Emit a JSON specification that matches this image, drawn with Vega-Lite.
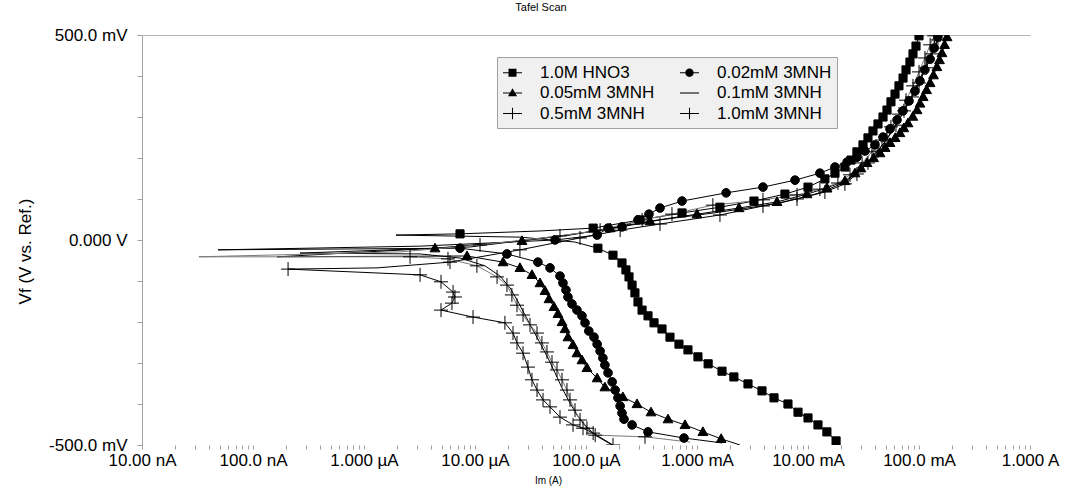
{
"$schema":"https://vega.github.io/schema/vega-lite/v6.json",
"width":888,"height":410,
"autosize":{"type":"none"},
"padding":{"left":142,"top":35,"right":45,"bottom":47},
"background":"white",
"config":{"view":{"stroke":null},"font":"Liberation Sans"},
"title":{"text":"Tafel Scan","fontSize":11,"fontWeight":"normal","color":"black","anchor":"middle","dx":-45,"offset":13,"font":"Liberation Sans"},
"data":{"values":[
{"s":"1.0M HNO3","i":0,"I":1.79e-2,"V":-0.490,"m":1},
{"s":"1.0M HNO3","i":1,"I":1.48e-2,"V":-0.468,"m":1},
{"s":"1.0M HNO3","i":2,"I":1.23e-2,"V":-0.451,"m":1},
{"s":"1.0M HNO3","i":3,"I":1.00e-2,"V":-0.434,"m":1},
{"s":"1.0M HNO3","i":4,"I":8.13e-3,"V":-0.420,"m":1},
{"s":"1.0M HNO3","i":5,"I":6.60e-3,"V":-0.400,"m":1},
{"s":"1.0M HNO3","i":6,"I":4.94e-3,"V":-0.385,"m":1},
{"s":"1.0M HNO3","i":7,"I":3.85e-3,"V":-0.368,"m":1},
{"s":"1.0M HNO3","i":8,"I":2.88e-3,"V":-0.351,"m":1},
{"s":"1.0M HNO3","i":9,"I":2.15e-3,"V":-0.334,"m":1},
{"s":"1.0M HNO3","i":10,"I":1.68e-3,"V":-0.320,"m":1},
{"s":"1.0M HNO3","i":11,"I":1.26e-3,"V":-0.302,"m":1},
{"s":"1.0M HNO3","i":12,"I":1.02e-3,"V":-0.285,"m":1},
{"s":"1.0M HNO3","i":13,"I":8.29e-4,"V":-0.268,"m":1},
{"s":"1.0M HNO3","i":14,"I":6.88e-4,"V":-0.254,"m":1},
{"s":"1.0M HNO3","i":15,"I":5.71e-4,"V":-0.237,"m":1},
{"s":"1.0M HNO3","i":16,"I":4.84e-4,"V":-0.217,"m":1},
{"s":"1.0M HNO3","i":17,"I":4.10e-4,"V":-0.202,"m":1},
{"s":"1.0M HNO3","i":18,"I":3.62e-4,"V":-0.185,"m":1},
{"s":"1.0M HNO3","i":19,"I":3.20e-4,"V":-0.171,"m":1},
{"s":"1.0M HNO3","i":20,"I":2.94e-4,"V":-0.151,"m":1},
{"s":"1.0M HNO3","i":21,"I":2.76e-4,"V":-0.129,"m":1},
{"s":"1.0M HNO3","i":22,"I":2.60e-4,"V":-0.110,"m":1},
{"s":"1.0M HNO3","i":23,"I":2.44e-4,"V":-0.090,"m":1},
{"s":"1.0M HNO3","i":24,"I":2.29e-4,"V":-0.073,"m":1},
{"s":"1.0M HNO3","i":25,"I":2.11e-4,"V":-0.056,"m":1},
{"s":"1.0M HNO3","i":26,"I":1.75e-4,"V":-0.037,"m":1},
{"s":"1.0M HNO3","i":27,"I":1.28e-4,"V":-0.020,"m":1},
{"s":"1.0M HNO3","i":28,"I":7.96e-5,"V":-0.005,"m":0},
{"s":"1.0M HNO3","i":29,"I":2.54e-5,"V":0.007,"m":0},
{"s":"1.0M HNO3","i":30,"I":1.94e-6,"V":0.012,"m":0},
{"s":"1.0M HNO3","i":31,"I":7.33e-6,"V":0.015,"m":1},
{"s":"1.0M HNO3","i":32,"I":3.85e-5,"V":0.022,"m":0},
{"s":"1.0M HNO3","i":33,"I":1.16e-4,"V":0.029,"m":1},
{"s":"1.0M HNO3","i":34,"I":3.07e-4,"V":0.049,"m":1},
{"s":"1.0M HNO3","i":35,"I":7.33e-4,"V":0.066,"m":1},
{"s":"1.0M HNO3","i":36,"I":1.61e-3,"V":0.080,"m":1},
{"s":"1.0M HNO3","i":37,"I":3.26e-3,"V":0.095,"m":1},
{"s":"1.0M HNO3","i":38,"I":6.20e-3,"V":0.112,"m":1},
{"s":"1.0M HNO3","i":39,"I":1.00e-2,"V":0.129,"m":1},
{"s":"1.0M HNO3","i":40,"I":1.42e-2,"V":0.149,"m":1},
{"s":"1.0M HNO3","i":41,"I":1.75e-2,"V":0.163,"m":1},
{"s":"1.0M HNO3","i":42,"I":2.15e-2,"V":0.178,"m":1},
{"s":"1.0M HNO3","i":43,"I":2.44e-2,"V":0.195,"m":1},
{"s":"1.0M HNO3","i":44,"I":2.76e-2,"V":0.215,"m":1},
{"s":"1.0M HNO3","i":45,"I":3.13e-2,"V":0.232,"m":1},
{"s":"1.0M HNO3","i":46,"I":3.47e-2,"V":0.249,"m":1},
{"s":"1.0M HNO3","i":47,"I":3.85e-2,"V":0.266,"m":1},
{"s":"1.0M HNO3","i":48,"I":4.27e-2,"V":0.283,"m":1},
{"s":"1.0M HNO3","i":49,"I":4.74e-2,"V":0.300,"m":1},
{"s":"1.0M HNO3","i":50,"I":5.15e-2,"V":0.317,"m":1},
{"s":"1.0M HNO3","i":51,"I":5.59e-2,"V":0.337,"m":1},
{"s":"1.0M HNO3","i":52,"I":6.08e-2,"V":0.356,"m":1},
{"s":"1.0M HNO3","i":53,"I":6.60e-2,"V":0.376,"m":1},
{"s":"1.0M HNO3","i":54,"I":7.18e-2,"V":0.395,"m":1},
{"s":"1.0M HNO3","i":55,"I":7.64e-2,"V":0.415,"m":1},
{"s":"1.0M HNO3","i":56,"I":8.29e-2,"V":0.434,"m":1},
{"s":"1.0M HNO3","i":57,"I":8.83e-2,"V":0.454,"m":1},
{"s":"1.0M HNO3","i":58,"I":9.40e-2,"V":0.473,"m":1},
{"s":"1.0M HNO3","i":59,"I":1.00e-1,"V":0.498,"m":1},
{"s":"0.02mM 3MNH","i":0,"I":1.68e-3,"V":-0.495,"m":0},
{"s":"0.02mM 3MNH","i":1,"I":7.64e-4,"V":-0.483,"m":1},
{"s":"0.02mM 3MNH","i":2,"I":3.62e-4,"V":-0.468,"m":1},
{"s":"0.02mM 3MNH","i":3,"I":2.60e-4,"V":-0.451,"m":1},
{"s":"0.02mM 3MNH","i":4,"I":2.20e-4,"V":-0.437,"m":1},
{"s":"0.02mM 3MNH","i":5,"I":2.11e-4,"V":-0.422,"m":1},
{"s":"0.02mM 3MNH","i":6,"I":2.03e-4,"V":-0.405,"m":1},
{"s":"0.02mM 3MNH","i":7,"I":1.94e-4,"V":-0.385,"m":1},
{"s":"0.02mM 3MNH","i":8,"I":1.83e-4,"V":-0.366,"m":1},
{"s":"0.02mM 3MNH","i":9,"I":1.72e-4,"V":-0.346,"m":1},
{"s":"0.02mM 3MNH","i":10,"I":1.58e-4,"V":-0.324,"m":1},
{"s":"0.02mM 3MNH","i":11,"I":1.48e-4,"V":-0.305,"m":1},
{"s":"0.02mM 3MNH","i":12,"I":1.42e-4,"V":-0.288,"m":1},
{"s":"0.02mM 3MNH","i":13,"I":1.34e-4,"V":-0.271,"m":1},
{"s":"0.02mM 3MNH","i":14,"I":1.26e-4,"V":-0.254,"m":1},
{"s":"0.02mM 3MNH","i":15,"I":1.18e-4,"V":-0.237,"m":1},
{"s":"0.02mM 3MNH","i":16,"I":1.06e-4,"V":-0.222,"m":1},
{"s":"0.02mM 3MNH","i":17,"I":9.80e-5,"V":-0.202,"m":1},
{"s":"0.02mM 3MNH","i":18,"I":9.20e-5,"V":-0.185,"m":1},
{"s":"0.02mM 3MNH","i":19,"I":8.29e-5,"V":-0.171,"m":1},
{"s":"0.02mM 3MNH","i":20,"I":7.48e-5,"V":-0.156,"m":1},
{"s":"0.02mM 3MNH","i":21,"I":6.88e-5,"V":-0.139,"m":1},
{"s":"0.02mM 3MNH","i":22,"I":6.60e-5,"V":-0.122,"m":1},
{"s":"0.02mM 3MNH","i":23,"I":6.20e-5,"V":-0.105,"m":1},
{"s":"0.02mM 3MNH","i":24,"I":5.83e-5,"V":-0.088,"m":1},
{"s":"0.02mM 3MNH","i":25,"I":4.74e-5,"V":-0.068,"m":1},
{"s":"0.02mM 3MNH","i":26,"I":3.69e-5,"V":-0.054,"m":1},
{"s":"0.02mM 3MNH","i":27,"I":1.94e-5,"V":-0.034,"m":1},
{"s":"0.02mM 3MNH","i":28,"I":7.33e-6,"V":-0.020,"m":1},
{"s":"0.02mM 3MNH","i":29,"I":4.84e-8,"V":-0.024,"m":0},
{"s":"0.02mM 3MNH","i":30,"I":3.20e-6,"V":-0.015,"m":0},
{"s":"0.02mM 3MNH","i":31,"I":5.26e-5,"V":0.000,"m":1},
{"s":"0.02mM 3MNH","i":32,"I":1.26e-4,"V":0.012,"m":1},
{"s":"0.02mM 3MNH","i":33,"I":1.58e-4,"V":0.029,"m":1},
{"s":"0.02mM 3MNH","i":34,"I":2.11e-4,"V":0.032,"m":1},
{"s":"0.02mM 3MNH","i":35,"I":2.94e-4,"V":0.049,"m":1},
{"s":"0.02mM 3MNH","i":36,"I":3.69e-4,"V":0.063,"m":1},
{"s":"0.02mM 3MNH","i":37,"I":4.64e-4,"V":0.078,"m":1},
{"s":"0.02mM 3MNH","i":38,"I":7.33e-4,"V":0.095,"m":1},
{"s":"0.02mM 3MNH","i":39,"I":1.83e-3,"V":0.115,"m":1},
{"s":"0.02mM 3MNH","i":40,"I":3.93e-3,"V":0.129,"m":1},
{"s":"0.02mM 3MNH","i":41,"I":7.64e-3,"V":0.146,"m":1},
{"s":"0.02mM 3MNH","i":42,"I":1.28e-2,"V":0.163,"m":1},
{"s":"0.02mM 3MNH","i":43,"I":1.75e-2,"V":0.178,"m":1},
{"s":"0.02mM 3MNH","i":44,"I":2.25e-2,"V":0.190,"m":1},
{"s":"0.02mM 3MNH","i":45,"I":2.76e-2,"V":0.202,"m":1},
{"s":"0.02mM 3MNH","i":46,"I":3.26e-2,"V":0.217,"m":1},
{"s":"0.02mM 3MNH","i":47,"I":4.01e-2,"V":0.232,"m":1},
{"s":"0.02mM 3MNH","i":48,"I":4.74e-2,"V":0.251,"m":1},
{"s":"0.02mM 3MNH","i":49,"I":5.48e-2,"V":0.271,"m":1},
{"s":"0.02mM 3MNH","i":50,"I":6.34e-2,"V":0.293,"m":1},
{"s":"0.02mM 3MNH","i":51,"I":7.18e-2,"V":0.315,"m":1},
{"s":"0.02mM 3MNH","i":52,"I":8.13e-2,"V":0.339,"m":1},
{"s":"0.02mM 3MNH","i":53,"I":9.20e-2,"V":0.363,"m":1},
{"s":"0.02mM 3MNH","i":54,"I":1.02e-1,"V":0.388,"m":1},
{"s":"0.02mM 3MNH","i":55,"I":1.13e-1,"V":0.415,"m":1},
{"s":"0.02mM 3MNH","i":56,"I":1.26e-1,"V":0.441,"m":1},
{"s":"0.02mM 3MNH","i":57,"I":1.37e-1,"V":0.468,"m":1},
{"s":"0.02mM 3MNH","i":58,"I":1.48e-1,"V":0.495,"m":1},
{"s":"0.05mM 3MNH","i":0,"I":2.44e-3,"V":-0.500,"m":0},
{"s":"0.05mM 3MNH","i":1,"I":1.65e-3,"V":-0.485,"m":1},
{"s":"0.05mM 3MNH","i":2,"I":1.13e-3,"V":-0.468,"m":1},
{"s":"0.05mM 3MNH","i":3,"I":7.80e-4,"V":-0.451,"m":1},
{"s":"0.05mM 3MNH","i":4,"I":5.48e-4,"V":-0.437,"m":1},
{"s":"0.05mM 3MNH","i":5,"I":3.85e-4,"V":-0.420,"m":1},
{"s":"0.05mM 3MNH","i":6,"I":2.88e-4,"V":-0.400,"m":1},
{"s":"0.05mM 3MNH","i":7,"I":2.15e-4,"V":-0.383,"m":1},
{"s":"0.05mM 3MNH","i":8,"I":1.48e-4,"V":-0.359,"m":1},
{"s":"0.05mM 3MNH","i":9,"I":1.26e-4,"V":-0.337,"m":1},
{"s":"0.05mM 3MNH","i":10,"I":1.02e-4,"V":-0.312,"m":1},
{"s":"0.05mM 3MNH","i":11,"I":9.20e-5,"V":-0.293,"m":1},
{"s":"0.05mM 3MNH","i":12,"I":8.29e-5,"V":-0.276,"m":1},
{"s":"0.05mM 3MNH","i":13,"I":7.64e-5,"V":-0.256,"m":1},
{"s":"0.05mM 3MNH","i":14,"I":6.88e-5,"V":-0.237,"m":1},
{"s":"0.05mM 3MNH","i":15,"I":6.47e-5,"V":-0.217,"m":1},
{"s":"0.05mM 3MNH","i":16,"I":6.08e-5,"V":-0.200,"m":1},
{"s":"0.05mM 3MNH","i":17,"I":5.59e-5,"V":-0.180,"m":1},
{"s":"0.05mM 3MNH","i":18,"I":5.15e-5,"V":-0.163,"m":1},
{"s":"0.05mM 3MNH","i":19,"I":4.64e-5,"V":-0.144,"m":1},
{"s":"0.05mM 3MNH","i":20,"I":4.27e-5,"V":-0.124,"m":1},
{"s":"0.05mM 3MNH","i":21,"I":3.85e-5,"V":-0.105,"m":1},
{"s":"0.05mM 3MNH","i":22,"I":3.26e-5,"V":-0.085,"m":1},
{"s":"0.05mM 3MNH","i":23,"I":2.54e-5,"V":-0.068,"m":1},
{"s":"0.05mM 3MNH","i":24,"I":1.79e-5,"V":-0.054,"m":1},
{"s":"0.05mM 3MNH","i":25,"I":8.47e-6,"V":-0.039,"m":1},
{"s":"0.05mM 3MNH","i":26,"I":1.65e-7,"V":-0.041,"m":0},
{"s":"0.05mM 3MNH","i":27,"I":4.36e-6,"V":-0.020,"m":1},
{"s":"0.05mM 3MNH","i":28,"I":2.65e-5,"V":-0.002,"m":1},
{"s":"0.05mM 3MNH","i":29,"I":7.18e-5,"V":0.012,"m":0},
{"s":"0.05mM 3MNH","i":30,"I":1.65e-4,"V":0.029,"m":1},
{"s":"0.05mM 3MNH","i":31,"I":3.77e-4,"V":0.046,"m":1},
{"s":"0.05mM 3MNH","i":32,"I":1.00e-3,"V":0.063,"m":1},
{"s":"0.05mM 3MNH","i":33,"I":2.39e-3,"V":0.078,"m":1},
{"s":"0.05mM 3MNH","i":34,"I":5.26e-3,"V":0.093,"m":1},
{"s":"0.05mM 3MNH","i":35,"I":9.80e-3,"V":0.112,"m":1},
{"s":"0.05mM 3MNH","i":36,"I":1.48e-2,"V":0.127,"m":1},
{"s":"0.05mM 3MNH","i":37,"I":2.15e-2,"V":0.144,"m":1},
{"s":"0.05mM 3MNH","i":38,"I":2.65e-2,"V":0.163,"m":1},
{"s":"0.05mM 3MNH","i":39,"I":3.00e-2,"V":0.175,"m":1},
{"s":"0.05mM 3MNH","i":40,"I":3.40e-2,"V":0.188,"m":1},
{"s":"0.05mM 3MNH","i":41,"I":3.90e-2,"V":0.200,"m":1},
{"s":"0.05mM 3MNH","i":42,"I":4.45e-2,"V":0.212,"m":1},
{"s":"0.05mM 3MNH","i":43,"I":4.95e-2,"V":0.225,"m":1},
{"s":"0.05mM 3MNH","i":44,"I":5.48e-2,"V":0.237,"m":1},
{"s":"0.05mM 3MNH","i":45,"I":6.10e-2,"V":0.249,"m":1},
{"s":"0.05mM 3MNH","i":46,"I":6.74e-2,"V":0.261,"m":1},
{"s":"0.05mM 3MNH","i":47,"I":7.30e-2,"V":0.273,"m":1},
{"s":"0.05mM 3MNH","i":48,"I":7.96e-2,"V":0.285,"m":1},
{"s":"0.05mM 3MNH","i":49,"I":8.80e-2,"V":0.301,"m":1},
{"s":"0.05mM 3MNH","i":50,"I":9.60e-2,"V":0.317,"m":1},
{"s":"0.05mM 3MNH","i":51,"I":1.02e-1,"V":0.333,"m":1},
{"s":"0.05mM 3MNH","i":52,"I":1.09e-1,"V":0.349,"m":1},
{"s":"0.05mM 3MNH","i":53,"I":1.17e-1,"V":0.366,"m":1},
{"s":"0.05mM 3MNH","i":54,"I":1.26e-1,"V":0.383,"m":1},
{"s":"0.05mM 3MNH","i":55,"I":1.35e-1,"V":0.402,"m":1},
{"s":"0.05mM 3MNH","i":56,"I":1.45e-1,"V":0.422,"m":1},
{"s":"0.05mM 3MNH","i":57,"I":1.53e-1,"V":0.439,"m":1},
{"s":"0.05mM 3MNH","i":58,"I":1.61e-1,"V":0.456,"m":1},
{"s":"0.05mM 3MNH","i":59,"I":1.70e-1,"V":0.476,"m":1},
{"s":"0.05mM 3MNH","i":60,"I":1.79e-1,"V":0.495,"m":1},
{"s":"0.1mM 3MNH","i":0,"I":1.72e-4,"V":-0.500,"m":0},
{"s":"0.1mM 3MNH","i":1,"I":1.21e-4,"V":-0.476,"m":0},
{"s":"0.1mM 3MNH","i":2,"I":9.80e-5,"V":-0.451,"m":0},
{"s":"0.1mM 3MNH","i":3,"I":8.29e-5,"V":-0.427,"m":0},
{"s":"0.1mM 3MNH","i":4,"I":7.18e-5,"V":-0.398,"m":0},
{"s":"0.1mM 3MNH","i":5,"I":6.08e-5,"V":-0.361,"m":0},
{"s":"0.1mM 3MNH","i":6,"I":5.26e-5,"V":-0.324,"m":0},
{"s":"0.1mM 3MNH","i":7,"I":4.55e-5,"V":-0.288,"m":0},
{"s":"0.1mM 3MNH","i":8,"I":3.85e-5,"V":-0.251,"m":0},
{"s":"0.1mM 3MNH","i":9,"I":3.26e-5,"V":-0.215,"m":0},
{"s":"0.1mM 3MNH","i":10,"I":2.76e-5,"V":-0.178,"m":0},
{"s":"0.1mM 3MNH","i":11,"I":2.39e-5,"V":-0.146,"m":0},
{"s":"0.1mM 3MNH","i":12,"I":2.07e-5,"V":-0.117,"m":0},
{"s":"0.1mM 3MNH","i":13,"I":1.68e-5,"V":-0.088,"m":0},
{"s":"0.1mM 3MNH","i":14,"I":1.23e-5,"V":-0.063,"m":0},
{"s":"0.1mM 3MNH","i":15,"I":7.33e-6,"V":-0.044,"m":0},
{"s":"0.1mM 3MNH","i":16,"I":3.20e-6,"V":-0.034,"m":0},
{"s":"0.1mM 3MNH","i":17,"I":2.65e-7,"V":-0.032,"m":0},
{"s":"0.1mM 3MNH","i":18,"I":9.02e-6,"V":-0.017,"m":0},
{"s":"0.1mM 3MNH","i":19,"I":5.83e-5,"V":0.010,"m":0},
{"s":"0.1mM 3MNH","i":20,"I":1.65e-4,"V":0.027,"m":0},
{"s":"0.1mM 3MNH","i":21,"I":4.64e-4,"V":0.049,"m":0},
{"s":"0.1mM 3MNH","i":22,"I":1.61e-3,"V":0.068,"m":0},
{"s":"0.1mM 3MNH","i":23,"I":5.59e-3,"V":0.090,"m":0},
{"s":"0.1mM 3MNH","i":24,"I":1.28e-2,"V":0.115,"m":0},
{"s":"0.1mM 3MNH","i":25,"I":2.15e-2,"V":0.141,"m":0},
{"s":"0.1mM 3MNH","i":26,"I":2.94e-2,"V":0.171,"m":0},
{"s":"0.1mM 3MNH","i":27,"I":3.77e-2,"V":0.202,"m":0},
{"s":"0.1mM 3MNH","i":28,"I":4.84e-2,"V":0.237,"m":0},
{"s":"0.1mM 3MNH","i":29,"I":5.95e-2,"V":0.273,"m":0},
{"s":"0.1mM 3MNH","i":30,"I":7.18e-2,"V":0.310,"m":0},
{"s":"0.1mM 3MNH","i":31,"I":8.47e-2,"V":0.346,"m":0},
{"s":"0.1mM 3MNH","i":32,"I":9.80e-2,"V":0.383,"m":0},
{"s":"0.1mM 3MNH","i":33,"I":1.13e-1,"V":0.420,"m":0},
{"s":"0.1mM 3MNH","i":34,"I":1.28e-1,"V":0.456,"m":0},
{"s":"0.1mM 3MNH","i":35,"I":1.42e-1,"V":0.493,"m":0},
{"s":"0.5mM 3MNH","i":0,"I":8.65e-4,"V":-0.493,"m":0},
{"s":"0.5mM 3MNH","i":1,"I":3.40e-4,"V":-0.480,"m":1},
{"s":"0.5mM 3MNH","i":2,"I":1.21e-4,"V":-0.476,"m":1},
{"s":"0.5mM 3MNH","i":3,"I":1.02e-4,"V":-0.459,"m":1},
{"s":"0.5mM 3MNH","i":4,"I":8.83e-5,"V":-0.439,"m":1},
{"s":"0.5mM 3MNH","i":5,"I":7.96e-5,"V":-0.415,"m":1},
{"s":"0.5mM 3MNH","i":6,"I":7.18e-5,"V":-0.390,"m":1},
{"s":"0.5mM 3MNH","i":7,"I":6.74e-5,"V":-0.366,"m":1},
{"s":"0.5mM 3MNH","i":8,"I":6.08e-5,"V":-0.341,"m":1},
{"s":"0.5mM 3MNH","i":9,"I":5.48e-5,"V":-0.317,"m":1},
{"s":"0.5mM 3MNH","i":10,"I":4.94e-5,"V":-0.298,"m":1},
{"s":"0.5mM 3MNH","i":11,"I":4.45e-5,"V":-0.273,"m":1},
{"s":"0.5mM 3MNH","i":12,"I":4.01e-5,"V":-0.251,"m":1},
{"s":"0.5mM 3MNH","i":13,"I":3.62e-5,"V":-0.227,"m":1},
{"s":"0.5mM 3MNH","i":14,"I":3.13e-5,"V":-0.207,"m":1},
{"s":"0.5mM 3MNH","i":15,"I":2.71e-5,"V":-0.183,"m":1},
{"s":"0.5mM 3MNH","i":16,"I":2.39e-5,"V":-0.159,"m":1},
{"s":"0.5mM 3MNH","i":17,"I":2.15e-5,"V":-0.134,"m":1},
{"s":"0.5mM 3MNH","i":18,"I":1.94e-5,"V":-0.110,"m":1},
{"s":"0.5mM 3MNH","i":19,"I":1.58e-5,"V":-0.090,"m":1},
{"s":"0.5mM 3MNH","i":20,"I":1.04e-5,"V":-0.063,"m":1},
{"s":"0.5mM 3MNH","i":21,"I":5.71e-6,"V":-0.046,"m":1},
{"s":"0.5mM 3MNH","i":22,"I":2.60e-6,"V":-0.041,"m":1},
{"s":"0.5mM 3MNH","i":23,"I":3.26e-8,"V":-0.041,"m":0},
{"s":"0.5mM 3MNH","i":24,"I":2.11e-6,"V":-0.029,"m":0},
{"s":"0.5mM 3MNH","i":25,"I":1.11e-5,"V":-0.012,"m":1},
{"s":"0.5mM 3MNH","i":26,"I":5.83e-5,"V":0.010,"m":1},
{"s":"0.5mM 3MNH","i":27,"I":1.34e-4,"V":0.024,"m":1},
{"s":"0.5mM 3MNH","i":28,"I":3.20e-4,"V":0.049,"m":1},
{"s":"0.5mM 3MNH","i":29,"I":5.95e-4,"V":0.063,"m":1},
{"s":"0.5mM 3MNH","i":30,"I":1.39e-3,"V":0.085,"m":1},
{"s":"0.5mM 3MNH","i":31,"I":3.93e-3,"V":0.098,"m":1},
{"s":"0.5mM 3MNH","i":32,"I":7.96e-3,"V":0.110,"m":1},
{"s":"0.5mM 3MNH","i":33,"I":1.28e-2,"V":0.124,"m":1},
{"s":"0.5mM 3MNH","i":34,"I":1.86e-2,"V":0.139,"m":1},
{"s":"0.5mM 3MNH","i":35,"I":2.39e-2,"V":0.159,"m":1},
{"s":"0.5mM 3MNH","i":36,"I":3.07e-2,"V":0.188,"m":1},
{"s":"0.5mM 3MNH","i":37,"I":3.77e-2,"V":0.215,"m":1},
{"s":"0.5mM 3MNH","i":38,"I":4.64e-2,"V":0.244,"m":1},
{"s":"0.5mM 3MNH","i":39,"I":5.59e-2,"V":0.276,"m":1},
{"s":"0.5mM 3MNH","i":40,"I":6.60e-2,"V":0.307,"m":1},
{"s":"0.5mM 3MNH","i":41,"I":7.64e-2,"V":0.341,"m":1},
{"s":"0.5mM 3MNH","i":42,"I":8.83e-2,"V":0.376,"m":1},
{"s":"0.5mM 3MNH","i":43,"I":1.00e-1,"V":0.410,"m":1},
{"s":"0.5mM 3MNH","i":44,"I":1.13e-1,"V":0.444,"m":1},
{"s":"0.5mM 3MNH","i":45,"I":1.26e-1,"V":0.476,"m":1},
{"s":"0.5mM 3MNH","i":46,"I":1.37e-1,"V":0.498,"m":1},
{"s":"1.0mM 3MNH","i":0,"I":1.75e-4,"V":-0.500,"m":1},
{"s":"1.0mM 3MNH","i":1,"I":1.16e-4,"V":-0.471,"m":1},
{"s":"1.0mM 3MNH","i":2,"I":9.40e-5,"V":-0.459,"m":1},
{"s":"1.0mM 3MNH","i":3,"I":7.64e-5,"V":-0.451,"m":1},
{"s":"1.0mM 3MNH","i":4,"I":5.83e-5,"V":-0.432,"m":1},
{"s":"1.0mM 3MNH","i":5,"I":4.74e-5,"V":-0.407,"m":1},
{"s":"1.0mM 3MNH","i":6,"I":4.10e-5,"V":-0.390,"m":1},
{"s":"1.0mM 3MNH","i":7,"I":3.62e-5,"V":-0.366,"m":1},
{"s":"1.0mM 3MNH","i":8,"I":3.26e-5,"V":-0.341,"m":1},
{"s":"1.0mM 3MNH","i":9,"I":3.00e-5,"V":-0.310,"m":1},
{"s":"1.0mM 3MNH","i":10,"I":2.71e-5,"V":-0.276,"m":1},
{"s":"1.0mM 3MNH","i":11,"I":2.39e-5,"V":-0.251,"m":1},
{"s":"1.0mM 3MNH","i":12,"I":2.20e-5,"V":-0.227,"m":1},
{"s":"1.0mM 3MNH","i":13,"I":1.86e-5,"V":-0.202,"m":1},
{"s":"1.0mM 3MNH","i":14,"I":9.60e-6,"V":-0.188,"m":1},
{"s":"1.0mM 3MNH","i":15,"I":4.94e-6,"V":-0.171,"m":1},
{"s":"1.0mM 3MNH","i":16,"I":6.20e-6,"V":-0.154,"m":1},
{"s":"1.0mM 3MNH","i":17,"I":6.60e-6,"V":-0.139,"m":1},
{"s":"1.0mM 3MNH","i":18,"I":6.34e-6,"V":-0.127,"m":1},
{"s":"1.0mM 3MNH","i":19,"I":4.94e-6,"V":-0.102,"m":1},
{"s":"1.0mM 3MNH","i":20,"I":3.20e-6,"V":-0.085,"m":1},
{"s":"1.0mM 3MNH","i":21,"I":2.07e-7,"V":-0.071,"m":1},
{"s":"1.0mM 3MNH","i":22,"I":1.31e-6,"V":-0.068,"m":0},
{"s":"1.0mM 3MNH","i":23,"I":5.95e-6,"V":-0.054,"m":1},
{"s":"1.0mM 3MNH","i":24,"I":2.54e-5,"V":-0.024,"m":1},
{"s":"1.0mM 3MNH","i":25,"I":8.83e-5,"V":0.005,"m":1},
{"s":"1.0mM 3MNH","i":26,"I":2.03e-4,"V":0.024,"m":1},
{"s":"1.0mM 3MNH","i":27,"I":4.64e-4,"V":0.039,"m":1},
{"s":"1.0mM 3MNH","i":28,"I":1.61e-3,"V":0.061,"m":1},
{"s":"1.0mM 3MNH","i":29,"I":3.93e-3,"V":0.083,"m":1},
{"s":"1.0mM 3MNH","i":30,"I":7.96e-3,"V":0.100,"m":1},
{"s":"1.0mM 3MNH","i":31,"I":1.42e-2,"V":0.117,"m":1},
{"s":"1.0mM 3MNH","i":32,"I":2.15e-2,"V":0.137,"m":1},
{"s":"1.0mM 3MNH","i":33,"I":2.76e-2,"V":0.161,"m":1},
{"s":"1.0mM 3MNH","i":34,"I":3.47e-2,"V":0.188,"m":1},
{"s":"1.0mM 3MNH","i":35,"I":4.27e-2,"V":0.217,"m":1},
{"s":"1.0mM 3MNH","i":36,"I":5.15e-2,"V":0.246,"m":1},
{"s":"1.0mM 3MNH","i":37,"I":6.20e-2,"V":0.280,"m":1},
{"s":"1.0mM 3MNH","i":38,"I":7.33e-2,"V":0.315,"m":1},
{"s":"1.0mM 3MNH","i":39,"I":8.65e-2,"V":0.349,"m":1},
{"s":"1.0mM 3MNH","i":40,"I":1.00e-1,"V":0.383,"m":1},
{"s":"1.0mM 3MNH","i":41,"I":1.16e-1,"V":0.420,"m":1},
{"s":"1.0mM 3MNH","i":42,"I":1.31e-1,"V":0.454,"m":1},
{"s":"1.0mM 3MNH","i":43,"I":1.48e-1,"V":0.488,"m":1},
{"s":"1.0mM 3MNH","i":44,"I":1.55e-1,"V":0.500,"m":1}
]},
"encoding":{
 "x":{"field":"I","type":"quantitative","scale":{"type":"log","domain":[1e-8,1],"nice":false},
  "axis":{"title":"Im (A)","titleFontSize":10,"titleFontWeight":"normal","titleColor":"black","titleFont":"Liberation Sans","titleX":406,"titleY":30,
   "values":[1e-8,2e-8,3e-8,4e-8,5e-8,6e-8,7e-8,8e-8,9e-8,1e-7,2e-7,3e-7,4e-7,5e-7,6e-7,7e-7,8e-7,9e-7,1e-6,2e-6,3e-6,4e-6,5e-6,6e-6,7e-6,8e-6,9e-6,1e-5,2e-5,3e-5,4e-5,5e-5,6e-5,7e-5,8e-5,9e-5,0.0001,0.0002,0.0003,0.0004,0.0005,0.0006,0.0007,0.0008,0.0009,0.001,0.002,0.003,0.004,0.005,0.006,0.007,0.008,0.009,0.01,0.02,0.03,0.04,0.05,0.06,0.07,0.08,0.09,0.1,0.2,0.3,0.4,0.5,0.6,0.7,0.8,0.9,1],
   "labelExpr":"abs(log(datum.value)/LN10 - round(log(datum.value)/LN10)) < 0.01 ? ['10.00 nA','100.0 nA','1.000 µA','10.00 µA','100.0 µA','1.000 mA','10.00 mA','100.0 mA','1.000 A'][round(log(datum.value)/LN10)+8] : ''",
   "labelFontSize":17,"labelFont":"Liberation Sans","labelColor":"black","labelPadding":3,"tickSize":4,"tickColor":"#a0a0a0","domain":false,"grid":false,"labelOverlap":false,"labelFlush":false}},
 "y":{"field":"V","type":"quantitative","scale":{"domain":[-0.5,0.5],"nice":false,"zero":false},
  "axis":{"title":"Vf (V vs. Ref.)","titleFontSize":17,"titleFont":"Liberation Sans","titleFontWeight":"normal","titleColor":"black","titleX":-108,"titleY":216,
   "values":[-0.5,-0.4,-0.3,-0.2,-0.1,0,0.1,0.2,0.3,0.4,0.5],
   "labelExpr":"datum.value >= 0.49 ? '500.0 mV' : abs(datum.value) < 0.01 ? '0.000 V' : datum.value <= -0.49 ? '-500.0 mV' : ''",
   "labelFontSize":17,"labelFont":"Liberation Sans","labelColor":"black","labelPadding":10,"tickSize":5,"tickColor":"#a0a0a0","domainColor":"#a0a0a0","labelOverlap":false,"labelFlush":false,
   "grid":true,"gridColor":"#b4b4b4","gridOpacity":{"condition":{"test":"datum.value >= 0.49","value":1},"value":0}}}
},
"layer":[
 {"mark":{"type":"line","strokeWidth":1,"clip":true},
  "encoding":{
   "detail":{"field":"s","type":"nominal"},
   "order":{"field":"i","type":"quantitative"},
   "color":{"condition":{"test":"datum.s === '0.5mM 3MNH'","value":"#7a7a7a"},"value":"black"}
  }},
 {"transform":[{"filter":"datum.m == 1"}],
  "mark":{"type":"point","filled":true,"size":196,"fill":"black","stroke":"black","strokeWidth":1,"opacity":1,"clip":true},
  "encoding":{
   "shape":{"field":"s","type":"nominal",
    "scale":{"domain":["1.0M HNO3","0.02mM 3MNH","0.05mM 3MNH","0.1mM 3MNH","0.5mM 3MNH","1.0mM 3MNH"],
     "range":["M-0.58,-0.58H0.58V0.58H-0.58Z","M0.62,0A0.62,0.62,0,1,1,-0.62,0A0.62,0.62,0,1,1,0.62,0Z","M0,-0.72L0.7,0.52H-0.7Z","M0,0","M-1,0H1M0,-1V1","M-1,0H1M0,-1V1"]},
    "legend":null}
  }},
 {"transform":[{"filter":"datum.m == 99"}],
  "mark":{"type":"point","filled":true,"size":361,"fill":"black","opacity":1},
  "encoding":{
   "shape":{"field":"s","type":"nominal",
    "scale":{"domain":["1.0M HNO3","0.05mM 3MNH","0.5mM 3MNH","0.02mM 3MNH","0.1mM 3MNH","1.0mM 3MNH"],
     "range":["M-1,-0.055H1V0.055H-1ZM-0.42,-0.42H0.42V0.42H-0.42Z","M-1,-0.055H1V0.055H-1ZM0,-0.5L0.48,0.35H-0.48Z","M-1,-0.055H1V0.055H-1ZM-0.055,-0.6H0.055V0.6H-0.055Z","M-1,-0.055H1V0.055H-1ZM0.44,0A0.44,0.44,0,1,1,-0.44,0A0.44,0.44,0,1,1,0.44,0Z","M-1,-0.055H1V0.055H-1Z","M-1,-0.055H1V0.055H-1ZM-0.055,-0.6H0.055V0.6H-0.055Z"]},
    "legend":{"title":null,"orient":"none","legendX":355,"legendY":22,"columns":2,"fillColor":"#f0f0f0","strokeColor":"#a0a0a0","padding":5,
     "labelFontSize":17,"labelFont":"Liberation Sans","labelColor":"black","labelLimit":300,"symbolSize":361,"labelOffset":17,"rowPadding":1.5,"columnPadding":22,
     "symbolFillColor":"black","symbolOpacity":1,
     "encode":{"symbols":{"update":{"fill":{"value":"black"},"opacity":{"value":1}}}}}}
  }}
],
"resolve":{"scale":{"shape":"independent"},"legend":{"shape":"independent"}}
}
